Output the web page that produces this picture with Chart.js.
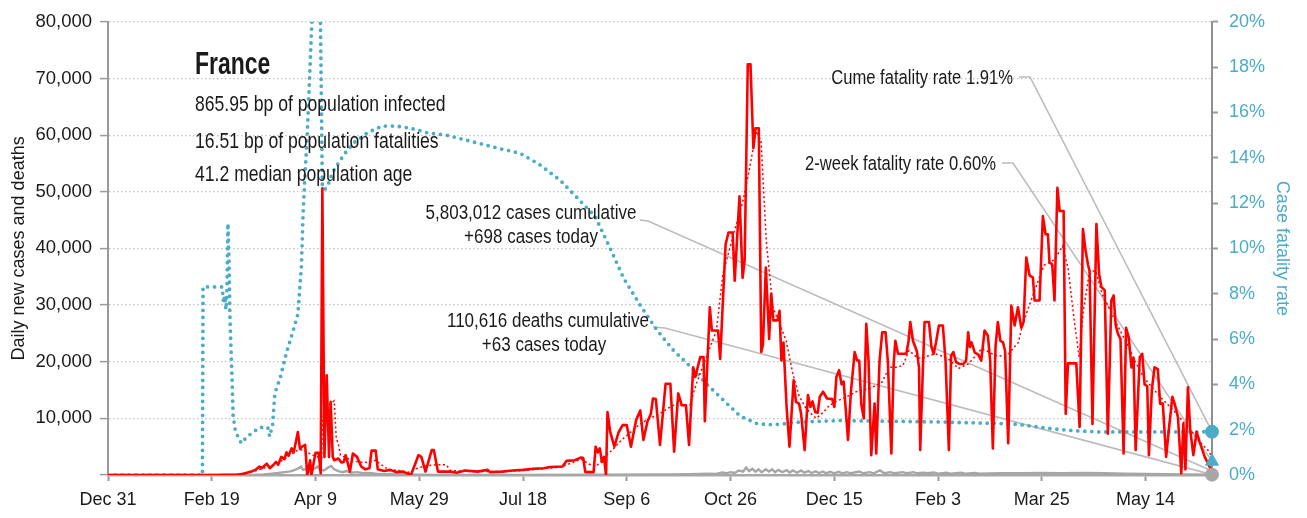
<!DOCTYPE html>
<html><head><meta charset="utf-8">
<script src="https://cdn.jsdelivr.net/npm/chart.js@4.4.1/dist/chart.umd.min.js"></script>
<style>html,body{margin:0;padding:0;background:#fff;} #wrap{width:1307px;height:518px;}</style>
</head><body><div id="wrap"><canvas id="c" width="1307" height="518"></canvas></div>
<script>
// x values are day offsets from Dec 31, 2019
const xTickLabels = ['Dec 31','Feb 19','Apr 9','May 29','Jul 18','Sep 6','Oct 26','Dec 15','Feb 3','Mar 25','May 14'];
const lastDay = 532;
// daily new cases, thousands
const dailyCases = [[0,0],[52,0],[56,0.02],[60,0.05],[63,0.1],[65,0.2],[67,0.4],[69,0.6],[71,0.9],[73,1.5],[74,1.2],[76.5,2.0],[78,1.2],[80,1.9],[81,2.3],[82,1.8],[83.5,3.2],[85,2.8],[86,4.0],[87,3.4],[88.5,4.7],[89.5,4.0],[91.5,7.6],[92.5,4.6],[93.5,5.0],[95,5.3],[96,0],[97.4,2.6],[98,0],[100,3.9],[101.5,3.9],[102.5,0.3],[103.3,50.6],[104.3,3.2],[105.4,17.6],[106.5,3.2],[107.3,12.9],[108.3,3.2],[109,2.6],[111,2.9],[112.5,2.2],[113.6,2.3],[114.5,3.5],[116.6,0.6],[118,3.8],[120,3.2],[122,1.5],[124,1.0],[126,1.2],[127,4.3],[129,4.3],[130,1.0],[133,0.7],[136,0.9],[139,0.5],[142,0.6],[144,0.3],[146,0],[149.6,3.5],[151,3.2],[153,0.6],[156,4.4],[157,4.4],[159,0.6],[165,0.6],[168,0.4],[172,0.8],[178,0.6],[183,0.9],[184,0.5],[190,0.6],[195,0.8],[200,0.9],[205,1.1],[210,1.2],[213,1.4],[219,1.5],[221,2.5],[225,2.6],[228,3.1],[229,3.0],[230,0.5],[234,0.5],[235,5.0],[236,4.0],[237,4.7],[238,2.3],[239,3.2],[240,0],[240.7,11.1],[242,7.6],[244,5.0],[246,7.5],[248,8.8],[250,8.8],[252,5.0],[254.5,9.7],[256.5,11.4],[258,6.2],[260,9.5],[261.6,10.8],[262.6,13.5],[264,13.4],[266,5.3],[268.7,16.1],[271,16.1],[272.8,4.1],[274.8,14.4],[276.5,12.3],[278.5,12.3],[280,5.3],[282,19.0],[283,17.3],[285.4,20.8],[287,20.8],[287.6,9.5],[290,29.6],[291,25.5],[294,25.5],[295,20.5],[297.6,40.7],[299,42.8],[301,42.8],[302,34.3],[304.3,49.2],[305.8,34.8],[306.8,38],[308.3,72.5],[309.6,72.5],[311,57.7],[312,61.2],[313.6,61.2],[314.8,21.7],[315.6,23],[317,36.6],[318.6,24],[319.6,32],[320.6,27.3],[322.6,27.3],[323.6,29],[324.5,20.2],[325.5,23.4],[327,12],[328.4,5.0],[330.4,16.7],[331.5,12.9],[333,12.6],[334,10.8],[335.7,4.4],[337.3,14.1],[338.5,12],[339.5,13],[340.8,11.1],[342,11],[343,13.8],[344.6,14.7],[346.5,13.5],[349,13.4],[350,12],[351,17.3],[352.3,18.5],[353.5,16],[354.5,16.5],[356.6,6.2],[358,14.7],[359.8,21.7],[361,20.2],[362,20.2],[363,12.5],[364.2,10],[365.4,26.7],[366.5,20],[367.8,3.5],[369.4,12.6],[370.2,3.8],[371.8,20.2],[373.1,25.2],[374.7,25.2],[375.8,20],[377.5,3.8],[378.6,19.6],[379.4,23.7],[380.7,21.4],[384.7,21.4],[385.8,23.7],[386.6,27],[387.9,23.7],[389.8,21.8],[390.8,19],[391.4,4.4],[392.7,19],[393.5,27],[395.6,27],[396.8,22.6],[397.9,21.4],[399,23.4],[400.4,26.4],[402.3,26.4],[403.6,20.2],[405.2,4.4],[406.3,21.1],[407.4,21.7],[408.7,19.9],[410.3,19.6],[412.2,19.6],[413.5,20.2],[414.5,25.2],[415.3,22.6],[416.1,23.4],[417.7,21.6],[419.3,21.3],[420.8,20.2],[422.4,25.5],[424,24.6],[425.1,20.2],[426.4,4.7],[427.7,22.8],[428.8,27],[430,23.7],[431.3,23.4],[432.3,21.9],[433.8,5.6],[435.3,29.9],[436.9,26.4],[438.5,29.6],[440.1,26],[441.2,27],[442.5,38.4],[444.1,35.2],[445.7,34.9],[446.5,30.8],[448.9,30.8],[450.5,45.7],[451.8,42.5],[452.9,42.5],[453.7,37.5],[455,37.2],[456.1,30.8],[457.5,50.7],[458.6,46.6],[460.5,46.6],[461.5,10.8],[462.6,19.7],[466.6,19.7],[468.2,8.5],[469.8,43.4],[471.1,39.6],[472.2,37.2],[473,36],[474.4,9],[476.3,44.3],[477.6,35.5],[478.7,33.2],[480.3,32.6],[481.8,7.3],[483.5,30.8],[484.6,31.7],[485.6,26.4],[486.7,24.9],[487.9,24],[489.4,3.8],[490.6,26],[491.9,24.2],[493.2,19],[494.2,20.7],[495.2,4.4],[497.2,20.8],[498.4,21.4],[499.5,16],[500.8,15.7],[501.6,3.5],[503,15],[504.3,19],[505.9,18.7],[507,12.6],[508.3,12.6],[509.9,3.2],[511.2,8],[512.9,13.8],[514,12.6],[515.6,10.2],[517.2,0.3],[518.2,9.1],[519.2,1.0],[520.4,15.5],[521.5,8],[523,3.5],[524.6,7.6],[526,5.9],[528.5,3.2],[530.8,1.5],[532,0.7]];
// 7-day average of cases, thousands
const casesAvg7 = [[0,0],[55,0],[60,0.05],[65,0.2],[70,0.6],[75,1.2],[80,1.8],[85,2.8],[88,3.6],[91,4.3],[94,4.5],[97,3.8],[100,3.3],[103,3.0],[103.3,10],[105,11.5],[107,12.5],[109,13.1],[110,6.5],[111,5.5],[112,3.5],[115,3.0],[118,2.5],[121,2.3],[125,2.2],[129,2.6],[131,2.0],[135,1.0],[140,0.8],[145,0.5],[149,1.2],[153,1.6],[158,1.8],[163,1.8],[165,0.8],[175,0.6],[190,0.6],[200,0.8],[210,1.1],[218,1.4],[224,2.2],[228,2.8],[232,1.9],[235,1.5],[238,2.5],[241,3.8],[243,4.4],[247,6],[251,7.3],[255,8.6],[259.4,9.7],[265.8,10.8],[270,11.8],[273.9,12.6],[277,12.2],[280.4,12.3],[283.5,16.1],[288.3,20.8],[293.2,25.5],[296.3,35.5],[301,41.9],[306,48.4],[309.2,54.2],[312.4,60.7],[314.7,59],[317.2,41.3],[320.4,29.6],[323.6,26.7],[326.8,23.7],[330,17.9],[333,14],[336,12],[338,11.1],[341.3,10],[344.5,11],[347.7,12.3],[351,13],[354,13.5],[357,14],[360.5,14.7],[363.5,15],[366.8,15.2],[370,15.8],[373,16.4],[376.5,19],[380,19],[383,19.3],[386,22],[389,21],[392,20.5],[395,21],[398.6,21.4],[402,21],[405,20.5],[409.8,18.8],[414.6,19.6],[418,21],[421,22.3],[424,21.8],[427.5,21.1],[431.6,21],[434,21.4],[438.7,23.4],[440,25.5],[443,29],[446,32],[451,37],[456,38],[460,40.4],[462.6,36.6],[465.6,27.3],[468,20.8],[470,29],[473,36],[476,36],[479,32],[483,29],[487,26],[491,23.2],[495,20],[499,17.3],[503,15.5],[507,13.8],[511,12.3],[515,10.8],[519,9],[523,7.3],[527,5.5],[530,4.4],[532,3.2]];
// daily new deaths, thousands
const dailyDeaths = [[0,0],[60,0],[70,0.03],[75,0.1],[78,0.2],[82,0.35],[85,0.5],[88,0.65],[90,0.9],[92,1.2],[93,1.5],[94,0.9],[95.5,1.1],[97,0.6],[98.5,1.0],[100,1.2],[101,1.5],[102,1.0],[104,0.8],[106,1.3],[107.5,1.6],[109,1.0],[111,0.7],[113,0.5],[115,0.7],[117,0.4],[120,0.5],[123,0.3],[126,0.35],[130,0.2],[135,0.15],[140,0.1],[150,0.05],[160,0.03],[200,0.02],[240,0.05],[260,0.08],[270,0.1],[280,0.15],[285,0.2],[290,0.25],[293,0.2],[296,0.45],[298,0.3],[300,0.5],[302,0.35],[304,0.8],[306,0.6],[307.5,1.3],[309,0.7],[310.5,1.1],[312,0.6],[313.5,1.0],[315,0.5],[317,1.0],[318.5,0.6],[320,1.0],[321.5,0.5],[323,0.9],[325,0.5],[327,0.85],[328.5,0.45],[330,0.8],[332,0.4],[334,0.8],[335.5,0.4],[337.5,0.7],[339,0.35],[341,0.65],[342.5,0.35],[344.5,0.6],[346,0.3],[348,0.55],[350,0.3],[352,0.55],[354,0.3],[356,0.5],[358,0.3],[362,0.6],[364,0.3],[367,0.5],[369,0.3],[372,0.8],[374,0.3],[377,0.5],[379,0.3],[383,0.5],[385,0.3],[388,0.5],[390,0.3],[393,0.4],[395,0.3],[398,0.45],[400,0.25],[404,0.4],[406,0.25],[411,0.4],[413,0.25],[418,0.35],[420,0.25],[430,0.3],[440,0.3],[450,0.35],[460,0.3],[470,0.35],[480,0.3],[490,0.25],[500,0.2],[510,0.15],[520,0.1],[532,0.06]];
// cumulative case fatality rate, %
const fatalityRate = [[0,0],[45.5,0],[45.8,8.3],[55,8.3],[55.7,7.6],[56.3,7.9],[56.8,7.3],[57.3,7.9],[57.8,11.1],[58.3,9.5],[58.8,6.8],[59.8,4.2],[60.3,2.6],[61.3,2.0],[63,1.6],[64.3,1.4],[67,1.7],[69.5,1.85],[73,2.1],[77,2.1],[77.9,1.7],[79.3,2.2],[80.4,3.6],[83,4.3],[86,5.4],[89,6.3],[91.5,7.1],[93.2,9.2],[94,11.5],[94.8,13],[96,15],[97,17.2],[98,19.5],[99,21.2],[100,22.3],[101,23],[102,23],[103.3,12.7],[104.5,12.6],[106,12.8],[108.5,13.4],[112,13.9],[115,14.3],[119,14.7],[125,15.1],[132,15.4],[139,15.4],[146,15.3],[154,15.1],[163,15.0],[176,14.7],[189,14.4],[198.6,14.2],[208,13.7],[218,13.0],[227.5,12.1],[234.8,11.4],[242,10.0],[248.4,8.7],[256.4,7.5],[264.5,6.4],[272.5,5.5],[280.5,4.8],[288.6,4.0],[296.6,3.3],[304.6,2.6],[312.7,2.27],[318,2.22],[323.9,2.24],[333.6,2.34],[352.9,2.4],[370,2.38],[401,2.34],[430,2.27],[438,2.24],[454,2.05],[466,1.95],[478,1.9],[510,1.9],[532,1.91]];
// headline numbers
const countryName = 'France';
const infoLines = ['865.95 bp of population infected','16.51 bp of population fatalities','41.2 median population age'];
const casesCumulative = 5803012, casesToday = 698;
const deathsCumulative = 110616, deathsToday = 63;
const cumeRate = 1.91, twoWeekRate = 0.60;

const FONT = "'Liberation Sans', Arial, sans-serif";
const TEAL = '#4bacc6', RED = '#ff0000', GREY = '#a6a6a6', INK = '#1a1a1a';
const toXY = a => a.map(p => ({x: p[0], y: p[1]}));
const fmt = n => n.toLocaleString('en-US');

// condensed text: real text drawn with horizontal compression
function narrowText(ctx, text, x, y, font, align, sx) {
  ctx.save();
  ctx.font = font;
  ctx.textAlign = align;
  ctx.textBaseline = 'alphabetic';
  ctx.translate(x, y);
  ctx.scale(sx, 1);
  ctx.fillText(text, 0, 0);
  ctx.restore();
}

const annot = {
  id: 'annot',
  beforeDatasetsDraw(chart) {
    const {ctx, scales: {x, y, y2}} = chart;
    const ex = x.getPixelForValue(lastDay);
    const leaders = [
      [[1019, 77], [1030, 77], [ex, y2.getPixelForValue(cumeRate)]],
      [[1002, 163], [1013, 163], [ex, y2.getPixelForValue(twoWeekRate)]],
      [[640, 220], [648, 221], [ex, y.getPixelForValue(casesToday / 1000)]],
      [[653, 327], [665, 328], [ex, y.getPixelForValue(deathsToday / 1000)]]
    ];
    ctx.save();
    ctx.strokeStyle = '#bcbcbc'; ctx.lineWidth = 1.6;
    for (const l of leaders) {
      ctx.beginPath(); ctx.moveTo(l[0][0], l[0][1]); ctx.lineTo(l[1][0], l[1][1]); ctx.lineTo(l[2][0], l[2][1]); ctx.stroke();
    }
    ctx.restore();
  },
  afterDraw(chart) {
    const ctx = chart.ctx;
    ctx.save();
    ctx.fillStyle = INK;
    narrowText(ctx, countryName, 195, 74, "bold 31px " + FONT, 'left', 0.74);
    const bl = [111, 148, 181];
    infoLines.forEach((t, i) => narrowText(ctx, t, 195, bl[i], "22px " + FONT, 'left', 0.80));
    const af = "20.5px " + FONT, s = 0.81;
    narrowText(ctx, 'Cume fatality rate ' + cumeRate.toFixed(2) + '%', 1013, 84, af, 'right', s);
    narrowText(ctx, '2-week fatality rate ' + twoWeekRate.toFixed(2) + '%', 996, 170, af, 'right', s);
    narrowText(ctx, fmt(casesCumulative) + ' cases cumulative', 531, 219, af, 'center', 0.83);
    narrowText(ctx, '+' + fmt(casesToday) + ' cases today', 531, 243, af, 'center', 0.83);
    narrowText(ctx, fmt(deathsCumulative) + ' deaths cumulative', 548, 327, af, 'center', 0.83);
    narrowText(ctx, '+' + fmt(deathsToday) + ' cases today', 544, 351, af, 'center', 0.83);
    ctx.restore();
  }
};

const yTickFont = {family: FONT, size: 18.5};
const y2TickFont = {family: FONT, size: 18};
const xTickFont = {family: FONT, size: 18};
const titleFont = {family: FONT, size: 18};

new Chart(document.getElementById('c'), {
  type: 'line',
  data: {datasets: [
    {data: [{x: lastDay, y: cumeRate}], yAxisID: 'y2', showLine: false, pointRadius: 6.5, pointStyle: 'circle', backgroundColor: TEAL, borderColor: TEAL, clip: false},
    {data: [{x: lastDay, y: twoWeekRate}], yAxisID: 'y2', showLine: false, pointRadius: 7.5, pointStyle: 'triangle', backgroundColor: TEAL, borderColor: TEAL, clip: false},
    {data: [{x: lastDay, y: deathsToday / 1000}], yAxisID: 'y', showLine: false, pointRadius: 6.5, pointStyle: 'circle', backgroundColor: GREY, borderColor: GREY, clip: false},
    {data: toXY(dailyCases), yAxisID: 'y', borderColor: RED, borderWidth: 2.6, pointRadius: 0, tension: 0, borderJoinStyle: 'round'},
    {data: toXY(casesAvg7), yAxisID: 'y', borderColor: RED, borderWidth: 1.5, borderDash: [2, 2.6], pointRadius: 0, tension: 0},
    {data: toXY(dailyDeaths), yAxisID: 'y', borderColor: GREY, borderWidth: 2.4, pointRadius: 0, tension: 0},
    {data: toXY(fatalityRate), yAxisID: 'y2', borderColor: TEAL, borderWidth: 3.8, borderDash: [0, 7], borderCapStyle: 'round', pointRadius: 0, tension: 0}
  ]},
  options: {
    responsive: false, animation: false, devicePixelRatio: 1,
    layout: {padding: {top: 20, left: 0, right: 0, bottom: 0}},
    plugins: {legend: {display: false}, tooltip: {enabled: false}},
    scales: {
      x: {
        type: 'linear', min: 0, max: lastDay,
        afterFit(s) { s.height = 43; },
        ticks: {stepSize: 50, includeBounds: false, autoSkip: false, maxRotation: 0,
          callback: v => xTickLabels[Math.round(v / 50)] ?? '', font: xTickFont, color: INK, padding: 8},
        grid: {drawOnChartArea: false, drawTicks: true, tickLength: 6, tickColor: '#9a9a9a', tickWidth: 2},
        border: {color: '#a8a8a8', width: 2.5}
      },
      y: {
        position: 'left', min: 0, max: 80,
        afterFit(s) { s.width = 108; },
        ticks: {stepSize: 10, callback: v => v === 0 ? '' : fmt(v * 1000), font: yTickFont, color: INK, padding: 8},
        grid: {color: '#c2c2c2', lineWidth: 1.2, tickLength: 8, tickColor: '#9a9a9a', tickWidth: 1.5},
        border: {color: '#9a9a9a', width: 2, dash: [1.5, 2.5]},
        title: {display: true, text: 'Daily new cases and deaths', font: titleFont, color: INK, padding: {top: 8, bottom: 0}}
      },
      y2: {
        position: 'right', min: 0, max: 20,
        afterFit(s) { s.width = 95; },
        ticks: {stepSize: 2, callback: v => v + '%', font: y2TickFont, color: TEAL, padding: 11},
        grid: {drawOnChartArea: false, tickLength: 6, tickColor: '#9a9a9a', tickWidth: 2},
        border: {color: '#8f8f8f', width: 2},
        title: {display: true, text: 'Case fatality rate', font: titleFont, color: TEAL, padding: {top: 14, bottom: 0}}
      }
    }
  },
  plugins: [annot]
});
</script>
</body></html>
